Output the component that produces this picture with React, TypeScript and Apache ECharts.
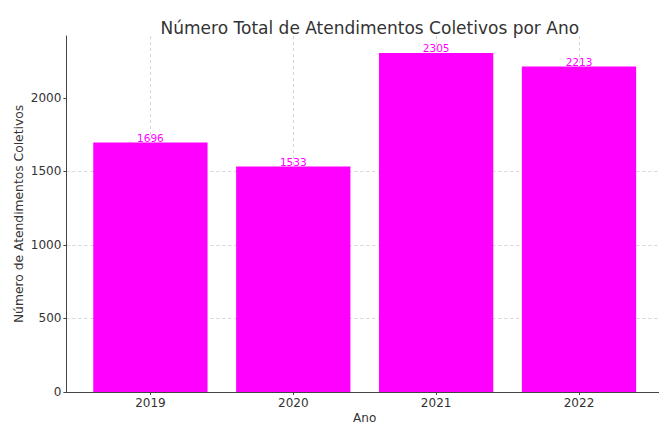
import React, { useEffect, useRef } from "react";
import * as echarts from "echarts";

const years = ["2019", "2020", "2021", "2022"];
const values = [1696, 1533, 2305, 2213];
const yTicks = [0, 500, 1000, 1500, 2000];
const yMax = 2420;
const title = "Número Total de Atendimentos Coletivos por Ano";
const xName = "Ano";
const yName = "Número de Atendimentos Coletivos";

const FONT = "DejaVu Sans";
const TEXT = "#333333";
const AXIS = "#444444";
const GRIDC = "#cccccc";

export default function App() {
  const ref = useRef<HTMLDivElement>(null);
  useEffect(() => {
    if (!ref.current) return;
    const chart = echarts.init(ref.current, null, { renderer: "svg" });
    chart.setOption({
      animation: false,
      backgroundColor: "#ffffff",
      textStyle: { fontFamily: FONT },
      title: {
        text: title,
        left: 364.8,
        textAlign: "center",
        top: 14,
        textStyle: { fontFamily: FONT, fontSize: 17, fontWeight: "normal", color: TEXT },
      },
      grid: [
        { left: 66.4, right: -4.3, top: 36, bottom: 33, containLabel: false, outerBoundsMode: "none" },
        { left: 150.4, width: 428.6, top: 36, bottom: 33, containLabel: false, outerBoundsMode: "none" },
      ],
      xAxis: [
        {
          gridIndex: 0,
          type: "value",
          min: -0.59,
          max: 3.59,
          axisLine: { show: true, onZero: false, lineStyle: { color: AXIS, width: 1 } },
          axisTick: { show: false },
          axisLabel: { show: false },
          splitLine: { show: false },
        },
        {
          gridIndex: 1,
          type: "category",
          data: years,
          boundaryGap: false,
          name: xName,
          nameLocation: "middle",
          nameGap: 19,
          nameMoveOverlap: false,
          nameTextStyle: { fontFamily: FONT, fontSize: 12, color: TEXT, lineHeight: 13 },
          axisLine: { show: false },
          axisTick: { show: true, length: 3, inside: false, lineStyle: { color: AXIS } },
          axisLabel: { show: true, margin: 5, fontFamily: FONT, fontSize: 12, color: TEXT },
          splitLine: { show: true, lineStyle: { color: GRIDC, type: [3, 3], width: 0.8 } },
        },
      ],
      yAxis: [
        {
          gridIndex: 0,
          type: "value",
          min: 0,
          max: yMax,
          interval: 500,
          name: yName,
          nameLocation: "middle",
          nameGap: 41,
          nameMoveOverlap: false,
          nameTextStyle: { fontFamily: FONT, fontSize: 12.3, color: TEXT },
          axisLine: { show: true, onZero: false, lineStyle: { color: AXIS, width: 1 } },
          axisTick: { show: true, length: 3, customValues: yTicks, lineStyle: { color: AXIS } },
          axisLabel: {
            show: true,
            margin: 5,
            customValues: yTicks,
            formatter: (v: number) => String(v),
            fontFamily: FONT,
            fontSize: 12,
            color: TEXT,
          },
          splitLine: { show: true, showMaxLine: false, lineStyle: { color: GRIDC, type: [3, 3], width: 0.8 } },
        },
        {
          gridIndex: 1,
          type: "value",
          min: 0,
          max: yMax,
          show: false,
          axisLine: { show: false },
          axisTick: { show: false },
          axisLabel: { show: false },
          splitLine: { show: false },
        },
      ],
      series: [
        {
          type: "bar",
          xAxisIndex: 1,
          yAxisIndex: 1,
          data: values,
          barWidth: "80%",
          clip: false,
          itemStyle: { color: "#ff00ff" },
          label: {
            show: true,
            position: "top",
            distance: -1,
            color: "#ff00ff",
            fontFamily: FONT,
            fontSize: 10.5,
          },
        },
      ],
    });
    return () => chart.dispose();
  }, []);
  return (
    <div
      ref={ref}
      style={{ position: "absolute", left: 0, top: 0, width: 659, height: 425 }}
    />
  );
}
